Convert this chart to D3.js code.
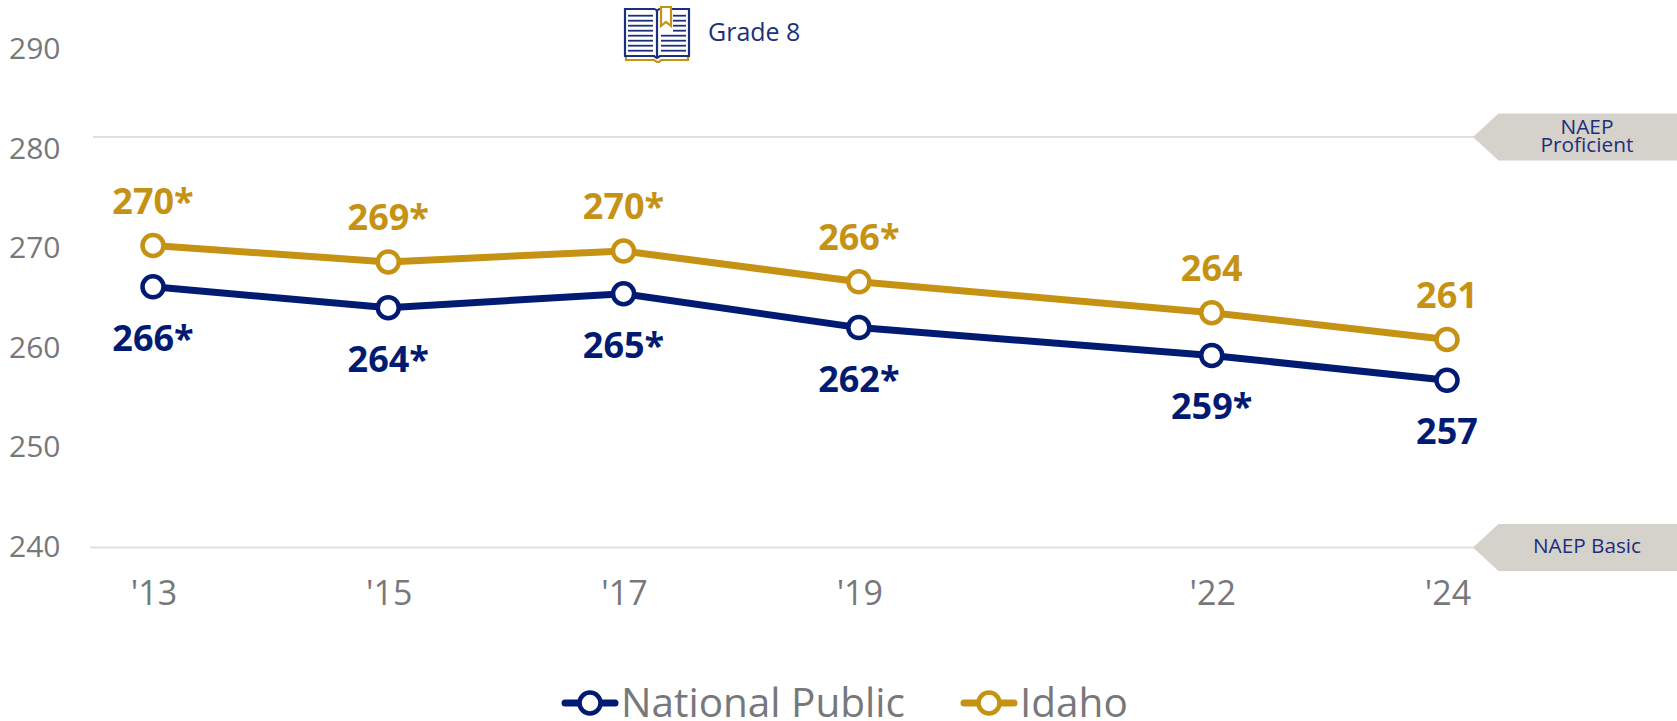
<!DOCTYPE html>
<html><head><meta charset="utf-8">
<style>html,body{margin:0;padding:0;background:#fff;overflow:hidden}svg{display:block}text{font-family:"Open Sans","Noto Sans",sans-serif}</style>
<script src="https://cdn.jsdelivr.net/npm/d3@7/dist/d3.min.js"></script>
</head><body><svg id="c" width="1677" height="721"></svg>
<script>
const years=[2013,2015,2017,2019,2022,2024];
const yearLabels=["'13","'15","'17","'19","'22","'24"];
const idaho=[270.15,268.5,269.6,266.5,263.4,260.7];
const nationalPublic=[266,263.9,265.3,261.9,259.1,256.6];
const idahoLabels=["270*","269*","270*","266*","264","261"];
const nationalLabels=["266*","264*","265*","262*","259*","257"];
const yTicks=[240,250,260,270,280,290];
const benchmarks=[{name:["NAEP","Proficient"],value:281.05,x0:93},{name:["NAEP Basic"],value:239.8,x0:90}];
const navy="#001b71",gold="#c69214",grey="#77787b",textNavy="#1d2f7a";

const svg=d3.select("#c");
const x=d3.scaleLinear().domain([2013,2024]).range([153,1447]);
const y=d3.scaleLinear().domain([240,290]).range([545.5,48]);

benchmarks.forEach(b=>{
  const py=y(b.value);
  svg.append("line").attr("x1",b.x0).attr("x2",1480).attr("y1",py).attr("y2",py).attr("stroke","#e2e0dd").attr("stroke-width",2);
  const h=23.5;
  const p=d3.path();
  p.moveTo(1473,py);p.lineTo(1498.5,py-h);p.lineTo(1677,py-h);p.lineTo(1677,py+h);p.lineTo(1498.5,py+h);p.closePath();
  svg.append("path").attr("d",p.toString()).attr("fill","#d5d1cb");
  const n=b.name.length;
  b.name.forEach((t,i)=>{
    const tx=svg.append("text").attr("x",1587).attr("y",py+(i-(n-1)/2)*18+6)
      .attr("text-anchor","middle").attr("font-size",20).attr("fill",textNavy).text(t);
    tx.attr("textLength",t==="NAEP"?53:t==="Proficient"?93:108).attr("lengthAdjust","spacingAndGlyphs");
  });
});

svg.selectAll(".yt").data(yTicks).join("text").attr("class","yt").attr("x",9).attr("y",d=>y(d)+11)
  .attr("font-size",30).attr("fill",grey).text(d=>d);
svg.selectAll(".xt").data(years).join("text").attr("class","xt").attr("x",d=>x(d)+1).attr("y",605)
  .attr("text-anchor","middle").attr("font-size",34).attr("fill",grey).text((d,i)=>yearLabels[i]);

function series(vals,color,labels,dy){
  const line=d3.line().x((d,i)=>x(years[i])).y(d=>y(d));
  svg.append("path").attr("d",line(vals)).attr("fill","none").attr("stroke",color).attr("stroke-width",7);
  svg.selectAll(null).data(vals).join("circle").attr("cx",(d,i)=>x(years[i])).attr("cy",d=>y(d)).attr("r",10.5)
    .attr("fill","#fff").attr("stroke",color).attr("stroke-width",4.5);
  svg.selectAll(null).data(vals).join("text").attr("x",(d,i)=>x(years[i])).attr("y",d=>y(d)+dy)
    .attr("text-anchor","middle").attr("font-size",36).attr("font-weight",700).attr("fill",color).text((d,i)=>labels[i]);
}
series(idaho,gold,idahoLabels,-32);
series(nationalPublic,navy,nationalLabels,64);

// book icon
const g=svg.append("g").attr("transform","translate(624,0)");
g.append("path").attr("d","M2,55V60H30L33,62H35L37,60H64V55").attr("fill","none").attr("stroke",gold).attr("stroke-width",2.2);
g.append("path").attr("d","M1,9H30Q32,9 33,11Q34,9 36,9H65V56H36L33,58L30,56H1Z").attr("fill","#fff").attr("stroke",textNavy).attr("stroke-width",2.2);
g.append("line").attr("x1",33).attr("x2",33).attr("y1",11).attr("y2",58).attr("stroke",textNavy).attr("stroke-width",2.2);
d3.range(0,8).forEach(i=>{
  const ly=15.7+i*5;
  g.append("line").attr("x1",4).attr("x2",29).attr("y1",ly).attr("y2",ly).attr("stroke",textNavy).attr("stroke-width",1.8);
  g.append("line").attr("x1",i<4?49:37).attr("x2",62).attr("y1",ly).attr("y2",ly).attr("stroke",textNavy).attr("stroke-width",1.8);
});
g.append("path").attr("d","M37,7H47V26L42,22L37,26Z").attr("fill","#fff").attr("stroke",gold).attr("stroke-width",2.2);
svg.append("text").attr("x",708).attr("y",41).attr("font-size",25).attr("fill",textNavy).text("Grade 8");

function legend(cx,color,label){
  svg.append("line").attr("x1",cx-25).attr("x2",cx+25).attr("y1",703).attr("y2",703).attr("stroke",color).attr("stroke-width",7).attr("stroke-linecap","round");
  svg.append("circle").attr("cx",cx).attr("cy",703).attr("r",10.5).attr("fill","#fff").attr("stroke",color).attr("stroke-width",4.5);
  svg.append("text").attr("x",cx+31).attr("y",717).attr("font-size",40.5).attr("fill",grey).text(label);
}
legend(590,navy,"National Public");
legend(989,gold,"Idaho");
</script></body></html>
